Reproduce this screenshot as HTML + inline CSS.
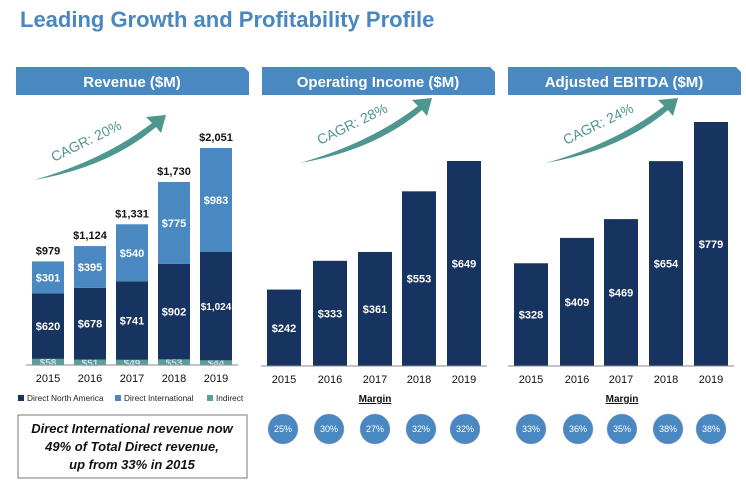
<!DOCTYPE html>
<html><head><meta charset="utf-8"><style>
body{margin:0;background:#fff;}
svg{display:block;font-family:"Liberation Sans",sans-serif;}
</style></head><body>
<svg id="c" width="746" height="483" viewBox="0 0 746 483">
<text x="20" y="27" font-size="22" font-weight="bold" fill="#4a86c0">Leading Growth and Profitability Profile</text>
<g id="g"></g>
<rect x="18" y="415" width="229" height="63" fill="#fff" stroke="#777"/>
<g font-size="13" font-style="italic" font-weight="bold" fill="#111" text-anchor="middle">
<text x="132" y="433">Direct International revenue now</text>
<text x="132" y="451">49% of Total Direct revenue,</text>
<text x="132" y="469">up from 33% in 2015</text>
</g>
</svg>
<script>
const years=["2015","2016","2017","2018","2019"];
const revNA=[620,678,741,902,1024];
const revIntl=[301,395,540,775,983];
const revInd=[58,51,49,53,44];
const revTotal=["$979","$1,124","$1,331","$1,730","$2,051"];
const opInc=[242,333,361,553,649];
const opMargin=["25%","30%","27%","32%","32%"];
const ebitda=[328,409,469,654,779];
const ebMargin=["33%","36%","35%","38%","38%"];
const C={navy:"#17335f",blue:"#4a88c2",teal:"#5aa09a"};
const g=document.getElementById('g');
const NS="http://www.w3.org/2000/svg";
function el(t,a,txt){const e=document.createElementNS(NS,t);for(const k in a)e.setAttribute(k,a[k]);if(txt!==undefined)e.textContent=txt;g.appendChild(e);return e;}
function fmt(v){return "$"+v.toLocaleString("en-US");}
function panel(x0,title,name){
  let e=el('path',{d:`M${x0} 67 H${x0+228} L${x0+233} 72 V95 H${x0} Z`,fill:"#4a88c2"});
  
  e=el('text',{x:x0+116,y:87,'font-size':15,'font-weight':'bold',fill:'#fff','text-anchor':'middle'},title);
  
}
function arrow(x,y,label,name){
  let e=el('path',{d:`M${x} ${y+65} Q${x+70} ${y+45} ${x+118} ${y+8} L${x+112} ${y+2} L${x+132} ${y} L${x+127} ${y+18} L${x+122} ${y+12} Q${x+75} ${y+52} ${x} ${y+65} Z`,fill:"#4f9690"});
  
  e=el('text',{x:x+20,y:y+47,'font-size':14,fill:'#4f9690',transform:`rotate(-26 ${x+20} ${y+47})`},label);
  
}
function axisX(cx,w,base,name){
  let e=el('line',{x1:cx[0]-w/2-6,x2:cx[4]+w/2+6,y1:base,y2:base,stroke:'#888'});
  
  years.forEach((y,i)=>{const t=el('text',{x:cx[i],y:base+17,'font-size':11,fill:'#111','text-anchor':'middle'},y);
  });
}
// Revenue
panel(16,"Revenue ($M)","revenue");
arrow(34,115,"CAGR: 20%","revenue");
(function(){
  const base=365,k=217/2051,w=32,cx=[48,90,132,174,216];
  const Y=v=>base-v*k;
  years.forEach((yr,i)=>{
    let b=0;
    [[revInd,C.teal,'indirect'],[revNA,C.navy,'north-america'],[revIntl,C.blue,'international']].forEach(([arr,col,nm])=>{
      const v=arr[i];const r=el('rect',{x:cx[i]-w/2,y:Y(b+v),width:w,height:v*k,fill:col});
      
      const t=el('text',{x:cx[i],y:(Y(b+v)+Y(b))/2+4,'font-size':nm==='indirect'?10:(v>=1000?10:11),'font-weight':'bold',fill:nm==='indirect'?'#cde':'#fff','text-anchor':'middle'},fmt(v));
      
      b+=v;
    });
    const t=el('text',{x:cx[i],y:Y(b)-7,'font-size':11,'font-weight':'bold',fill:'#111','text-anchor':'middle'},revTotal[i]);
    
  });
  axisX(cx,w,base,'revenue');
  const lg=[["Direct North America",C.navy,18],["Direct International",C.blue,115],["Indirect",C.teal,207]];
  lg.forEach(([n,c,x])=>{
    let r=el('rect',{x:x,y:395,width:6,height:6,fill:c});
    let t=el('text',{x:x+9,y:401,'font-size':8.3,fill:'#222'},n);
  });
})();
function simple(x0,title,name,vals,maxTop,cx,margins,ccx,arrowX){
  panel(x0,title,name);
  arrow(arrowX,98,title.indexOf('Oper')>=0?"CAGR: 28%":"CAGR: 24%",name);
  const base=366,w=34,k=(base-maxTop)/Math.max(...vals);
  vals.forEach((v,i)=>{
    const r=el('rect',{x:cx[i]-w/2,y:base-v*k,width:w,height:v*k,fill:C.navy});
    
    const t=el('text',{x:cx[i],y:base-v*k/2+4,'font-size':11,'font-weight':'bold',fill:'#fff','text-anchor':'middle'},fmt(v));
    
  });
  axisX(cx,w,base,name);
  let t=el('text',{x:ccx[2],y:402,'font-size':10,'font-weight':'bold',fill:'#111','text-anchor':'middle','text-decoration':'underline'},"Margin");
  
  margins.forEach((m,i)=>{
    const c=el('circle',{cx:ccx[i],cy:429,r:15,fill:C.blue,stroke:'#aac',"stroke-width":0.5});
    
    const tt=el('text',{x:ccx[i],y:432,'font-size':9,fill:'#fff','text-anchor':'middle'},m);
    
  });
}
simple(262,"Operating Income ($M)","operating-income",opInc,161,[284,330,375,419,464],opMargin,[283,329,375,421,465],300);
simple(508,"Adjusted EBITDA ($M)","adjusted-ebitda",ebitda,122,[531,577,621,666,711],ebMargin,[531,578,622,668,711],546);
</script>
</body></html>
